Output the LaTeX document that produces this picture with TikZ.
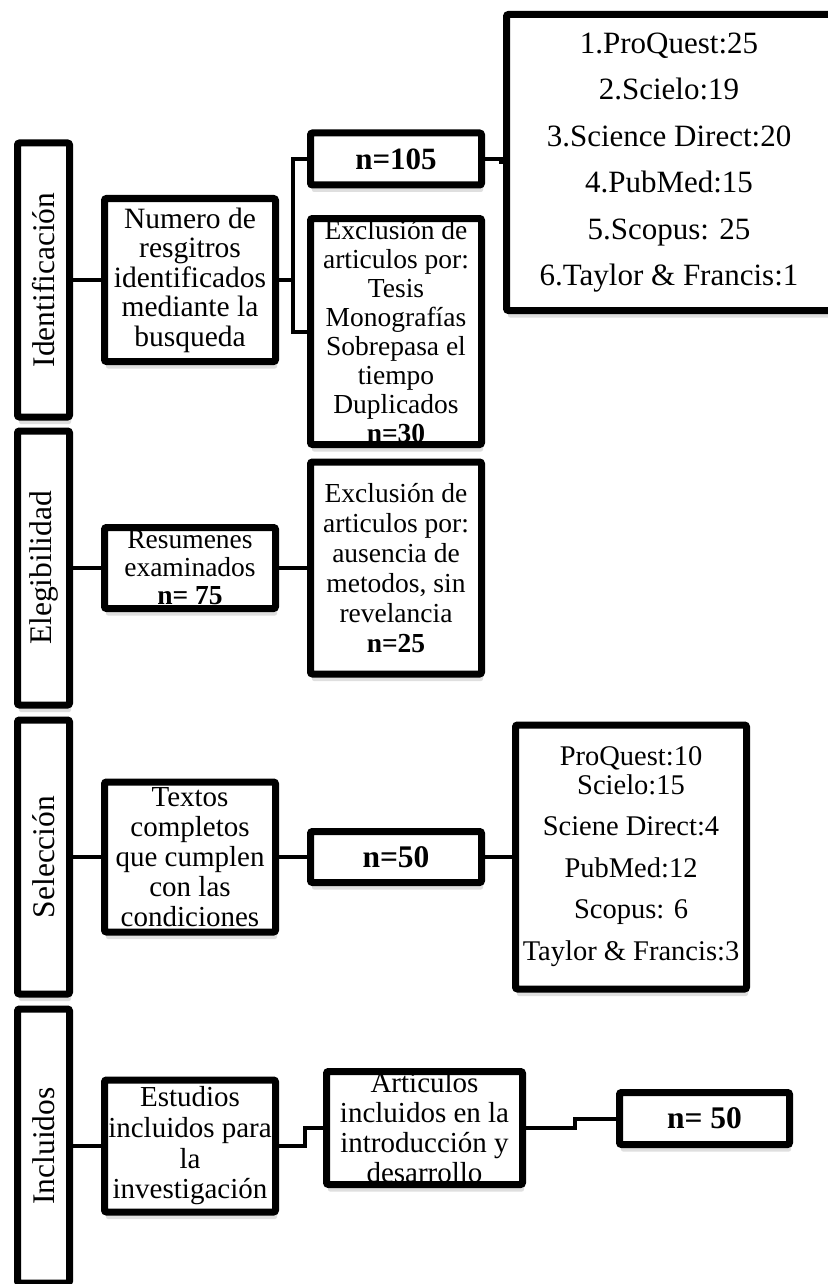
\documentclass[tikz,border=0pt]{standalone}
\usepackage{fontspec}
\setmainfont{Liberation Serif}
\usetikzlibrary{shadows}
\tikzstyle{box}=[draw,line width=7pt,rounded corners=2pt,fill=white,inner sep=0pt,align=center,
    drop shadow={shadow xshift=1.5pt,shadow yshift=-7pt,fill=black!25,opacity=.5}]
\tikzstyle{phase box}=[box,minimum width=52pt,minimum height=274pt,font=\fontsize{31.5}{36}\selectfont]
\tikzstyle{step box}=[box,minimum width=171pt]
\tikzstyle{count box}=[step box,minimum height=52pt,font=\fontsize{31}{36}\selectfont\bfseries]
\tikzstyle{edge}=[draw,line width=4pt,-]

\begin{document}
\begin{tikzpicture}[x=1pt,y=-1pt]
    \useasboundingbox (0,0) rectangle (827,1284);
    % Phases on the left
    \foreach \pos/\name/\label in {{(43.5,280)/ident/Identificación}, {(43.5,568)/eleg/Elegibilidad},
        {(43.5,857)/selec/Selección}, {(43.5,1146)/inclu/Incluidos}}
        \node[phase box] (\name) at \pos {\rotatebox{90}{\label}};

    % Identificacion
    \node[step box,minimum height=163pt,font=\fontsize{29.5}{29.5}\selectfont] (numero) at (190,280)
        {Numero de\\resgitros\\identificados\\mediante la\\busqueda};
    \node[count box] (n105) at (396,159) {n=105};
    \node[step box,minimum height=226pt,font=\fontsize{27.5}{29}\selectfont] (excl1) at (396,331.5)
        {Exclusión de\\articulos por:\\Tesis\\Monografías\\Sobrepasa el\\tiempo\\Duplicados\\\textbf{n=30}};
    \node[box,minimum width=325pt,minimum height=296pt,font=\fontsize{31}{46.4}\selectfont] (src1) at (669,162.5)
        {1.ProQuest:25\\2.Scielo:19\\3.Science Direct:20\\4.PubMed:15\\5.Scopus: 25\\6.Taylor \& Francis:1};

    % Elegibilidad
    \node[step box,minimum height=81pt,font=\fontsize{27.5}{28}\selectfont] (resum) at (190,568)
        {Resumenes\\examinados\\\textbf{n= 75}};
    \node[step box,minimum height=212pt,font=\fontsize{27.5}{30}\selectfont] (excl2) at (396,568)
        {Exclusión de\\articulos por:\\ausencia de\\metodos, sin\\revelancia\\\textbf{n=25}};

    % Seleccion
    \node[step box,minimum height=150pt,font=\fontsize{29}{30}\selectfont] (textos) at (190,857)
        {Textos\\completos\\que cumplen\\con las\\condiciones};
    \node[count box,minimum height=51pt,font=\fontsize{31.5}{36}\selectfont\bfseries] (n50) at (396,857) {n=50};
    \node[box,minimum width=231pt,minimum height=264pt,font=\fontsize{28.5}{29}\selectfont] (src2) at (631,857)
        {ProQuest:10\\Scielo:15\\[12pt]Sciene Direct:4\\[12.5pt]PubMed:12\\[12.5pt]Scopus: 6\\[13pt]Taylor \& Francis:3};

    % Incluidos
    \node[step box,minimum height=132pt,font=\fontsize{29}{30.7}\selectfont] (estud) at (190,1146)
        {Estudios\\incluidos para\\la\\investigación};
    \node[box,minimum width=196pt,minimum height=113pt,font=\fontsize{29}{30}\selectfont] (artic) at (424.5,1128)
        {Articulos\\incluidos en la\\introducción y\\desarrollo};
    \node[count box,minimum width=170pt,font=\fontsize{31.5}{36}\selectfont\bfseries] (nfin) at (704.5,1118.5) {n= 50};

    % Connect the boxes
    \coordinate (split) at (293,280);
    \path[edge] (numero.east) -- (split) |- (n105.west);
    \path[edge] (split) |- (excl1.west);
    \path[edge] (n105.east) -- ++(15.5,0) |- (src1.west);
    \foreach \source/\dest in {ident/numero, eleg/resum, resum/excl2, selec/textos, textos/n50, n50/src2, inclu/estud}
        \path[edge] (\source) -- (\dest);
    \path[edge] (estud.east) -- ++(25.5,0) |- (artic.west);
    \path[edge] (artic.east) -- ++(48.5,0) |- (nfin.west);
\end{tikzpicture}
\end{document}
